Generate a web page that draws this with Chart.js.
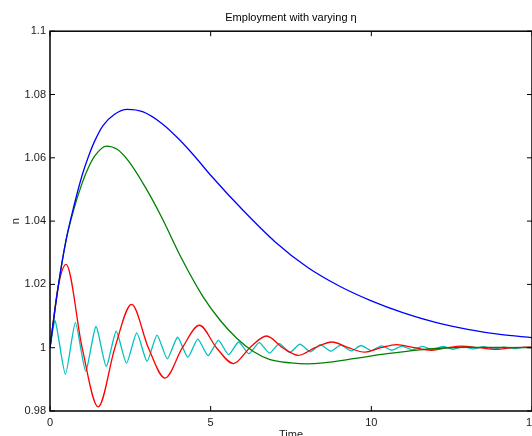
<!DOCTYPE html>
<html>
<head>
<meta charset="utf-8">
<style>
html, body { margin: 0; padding: 0; overflow: hidden; background: #fff; }
</style>
</head>
<body>
<canvas id="myChart" width="545" height="446"></canvas>
<script src="https://cdn.jsdelivr.net/npm/chart.js@4/dist/chart.umd.min.js"></script>
<script>
// values
var timeBlue = [0, 0.25, 0.5, 0.75, 1.0, 1.2, 1.4, 1.65, 2.0, 2.4, 2.9, 3.5, 4.0, 4.5, 5, 6, 7, 8, 9, 10, 11, 12, 13, 14, 15];
var nBlue = [1, 1.019, 1.034, 1.045, 1.0545, 1.0605, 1.0655, 1.0702, 1.0737, 1.0753, 1.0745, 1.0707, 1.066, 1.0605, 1.0545, 1.0435, 1.0335, 1.0255, 1.0195, 1.0148, 1.011, 1.008, 1.0058, 1.0042, 1.0032];

var timeGreen = [0, 0.25, 0.5, 0.75, 1.0, 1.2, 1.4, 1.76, 2.1, 2.44, 2.96, 3.47, 4.1, 4.77, 5.3, 5.81, 6.33, 6.85, 7.5, 8, 8.5, 9.5, 10.5, 11.5, 12.25, 13, 14, 15];
var nGreen = [1, 1.019, 1.034, 1.044, 1.052, 1.057, 1.0607, 1.0637, 1.0626, 1.059, 1.0508, 1.0413, 1.0281, 1.016, 1.0086, 1.003, 0.9988, 0.9962, 0.9952, 0.9949, 0.9952, 0.9966, 0.9981, 0.9993, 0.9999, 1.0001, 1.0001, 1.0];

var timeRed = [0, 0.25, 0.5, 1.0, 1.5, 2.02, 2.54, 3.06, 3.58, 4.12, 4.65, 5.18, 5.71, 6.22, 6.74, 7.24, 7.73, 8.25, 8.77, 9.28, 9.80, 10.3, 10.79, 11.33, 11.88, 12.35, 12.81, 13.35, 13.9, 14.4, 14.9, 15];
var nRed = [1, 1.019, 1.0263, 1.0, 0.9813, 1.0, 1.0137, 1.0, 0.9904, 1.0, 1.0071, 1.0, 0.9950, 1.0, 1.0037, 1.0, 0.9976, 1.0, 1.0018, 1.0, 0.9986, 1.0, 1.0010, 1.0, 0.9992, 1.0, 1.0005, 1.0, 0.9995, 1.0, 1.0002, 1.0002];

var timeCyan = [0, 0.16, 0.48, 0.79, 1.11, 1.43, 1.75, 2.06, 2.38, 2.70, 3.02, 3.33, 3.65, 3.97, 4.29, 4.60, 4.92, 5.24, 5.56, 5.87, 6.19, 6.51, 6.83, 7.14, 7.46, 7.78, 8.10, 8.41, 8.73, 9.05, 9.37, 9.68, 10.00, 10.32, 10.64, 10.95, 11.27, 11.59, 11.91, 12.22, 12.54, 12.86, 13.18, 13.49, 13.81, 14.13, 14.45, 14.76, 15];
var nCyan = [1, 1.0085, 0.9916, 1.0079, 0.9926, 1.0067, 0.9941, 1.0052, 0.9951, 1.0047, 0.9957, 1.0040, 0.9965, 1.0033, 0.9970, 1.0027, 0.9975, 1.0023, 0.9978, 1.0018, 0.9981, 1.0016, 0.9983, 1.0013, 0.9985, 1.0011, 0.9987, 1.0010, 0.9989, 1.0008, 0.9990, 1.0007, 0.9991, 1.0006, 0.9992, 1.0005, 0.9993, 1.0004, 0.9994, 1.0004, 0.9995, 1.0003, 0.9996, 1.0003, 0.9996, 1.0002, 0.9997, 1.0002, 1.0];

var xTicks = [0, 5, 10, 15];
var yTicks = [0.98, 1, 1.02, 1.04, 1.06, 1.08, 1.1];

function pts(t, v) {
  return t.map(function (x, i) { return { x: x, y: v[i] }; });
}

Chart.defaults.font.family = 'Liberation Sans, Arial, sans-serif';
Chart.defaults.font.size = 11;
Chart.defaults.color = '#1a1a1a';

// matlab style box with inward ticks
var frame = {
  id: 'frame',
  afterDatasetsDraw: function (chart) {
    var ctx = chart.ctx, a = chart.chartArea;
    var x = chart.scales.x, y = chart.scales.y;
    ctx.save();
    ctx.strokeStyle = '#000';
    ctx.lineWidth = 1.5;
    ctx.strokeRect(a.left, a.top, a.right - a.left, a.bottom - a.top);
    ctx.lineWidth = 1;
    ctx.beginPath();
    xTicks.forEach(function (v) {
      var px = x.getPixelForValue(v);
      ctx.moveTo(px, a.bottom); ctx.lineTo(px, a.bottom - 5);
      ctx.moveTo(px, a.top); ctx.lineTo(px, a.top + 5);
    });
    yTicks.forEach(function (v) {
      var py = y.getPixelForValue(v);
      ctx.moveTo(a.left, py); ctx.lineTo(a.left + 5, py);
      ctx.moveTo(a.right, py); ctx.lineTo(a.right - 5, py);
    });
    ctx.stroke();
    ctx.restore();
  }
};

var ctx = document.getElementById('myChart').getContext('2d');
var myChart = new Chart(ctx, {
  type: 'line',
  data: {
    datasets: [
      { label: 'blue', data: pts(timeBlue, nBlue), borderColor: '#0000ff', cubicInterpolationMode: 'monotone' },
      { label: 'green', data: pts(timeGreen, nGreen), borderColor: '#008000', cubicInterpolationMode: 'monotone' },
      { label: 'red', data: pts(timeRed, nRed), borderColor: '#ff0000', cubicInterpolationMode: 'monotone' },
      { label: 'cyan', data: pts(timeCyan, nCyan), borderColor: '#00bfbf', tension: 0.2 }
    ]
  },
  options: {
    responsive: false,
    animation: false,
    layout: { padding: { left: 0, right: 13, top: 0, bottom: 0 } },
    elements: {
      point: { radius: 0 },
      line: { borderWidth: 1.3, fill: false }
    },
    scales: {
      x: {
        type: 'linear',
        min: 0,
        max: 15,
        afterBuildTicks: function (s) { s.ticks = xTicks.map(function (v) { return { value: v }; }); },
        afterFit: function (s) { s.height = 35; },
        grid: { display: false, drawTicks: false },
        border: { display: false },
        ticks: { padding: 5, maxRotation: 0, autoSkip: false },
        title: { display: true, text: 'Time', padding: { top: 0, bottom: 4 } }
      },
      y: {
        type: 'linear',
        min: 0.98,
        max: 1.1,
        afterBuildTicks: function (s) { s.ticks = yTicks.map(function (v) { return { value: v }; }); },
        afterFit: function (s) { s.width = 50; },
        grid: { display: false, drawTicks: false },
        border: { display: false },
        ticks: {
          padding: 4,
          autoSkip: false,
          callback: function (v) { return String(Number(v.toFixed(2))); }
        },
        title: { display: true, text: 'n', padding: { top: 9, bottom: 0 } }
      }
    },
    plugins: {
      legend: { display: false },
      tooltip: { enabled: false },
      title: {
        display: true,
        text: 'Employment with varying η',
        fullSize: false,
        font: { size: 11, weight: 'normal' },
        color: '#000',
        padding: { top: 11, bottom: 7 }
      }
    }
  },
  plugins: [frame]
});
</script>
</body>
</html>
